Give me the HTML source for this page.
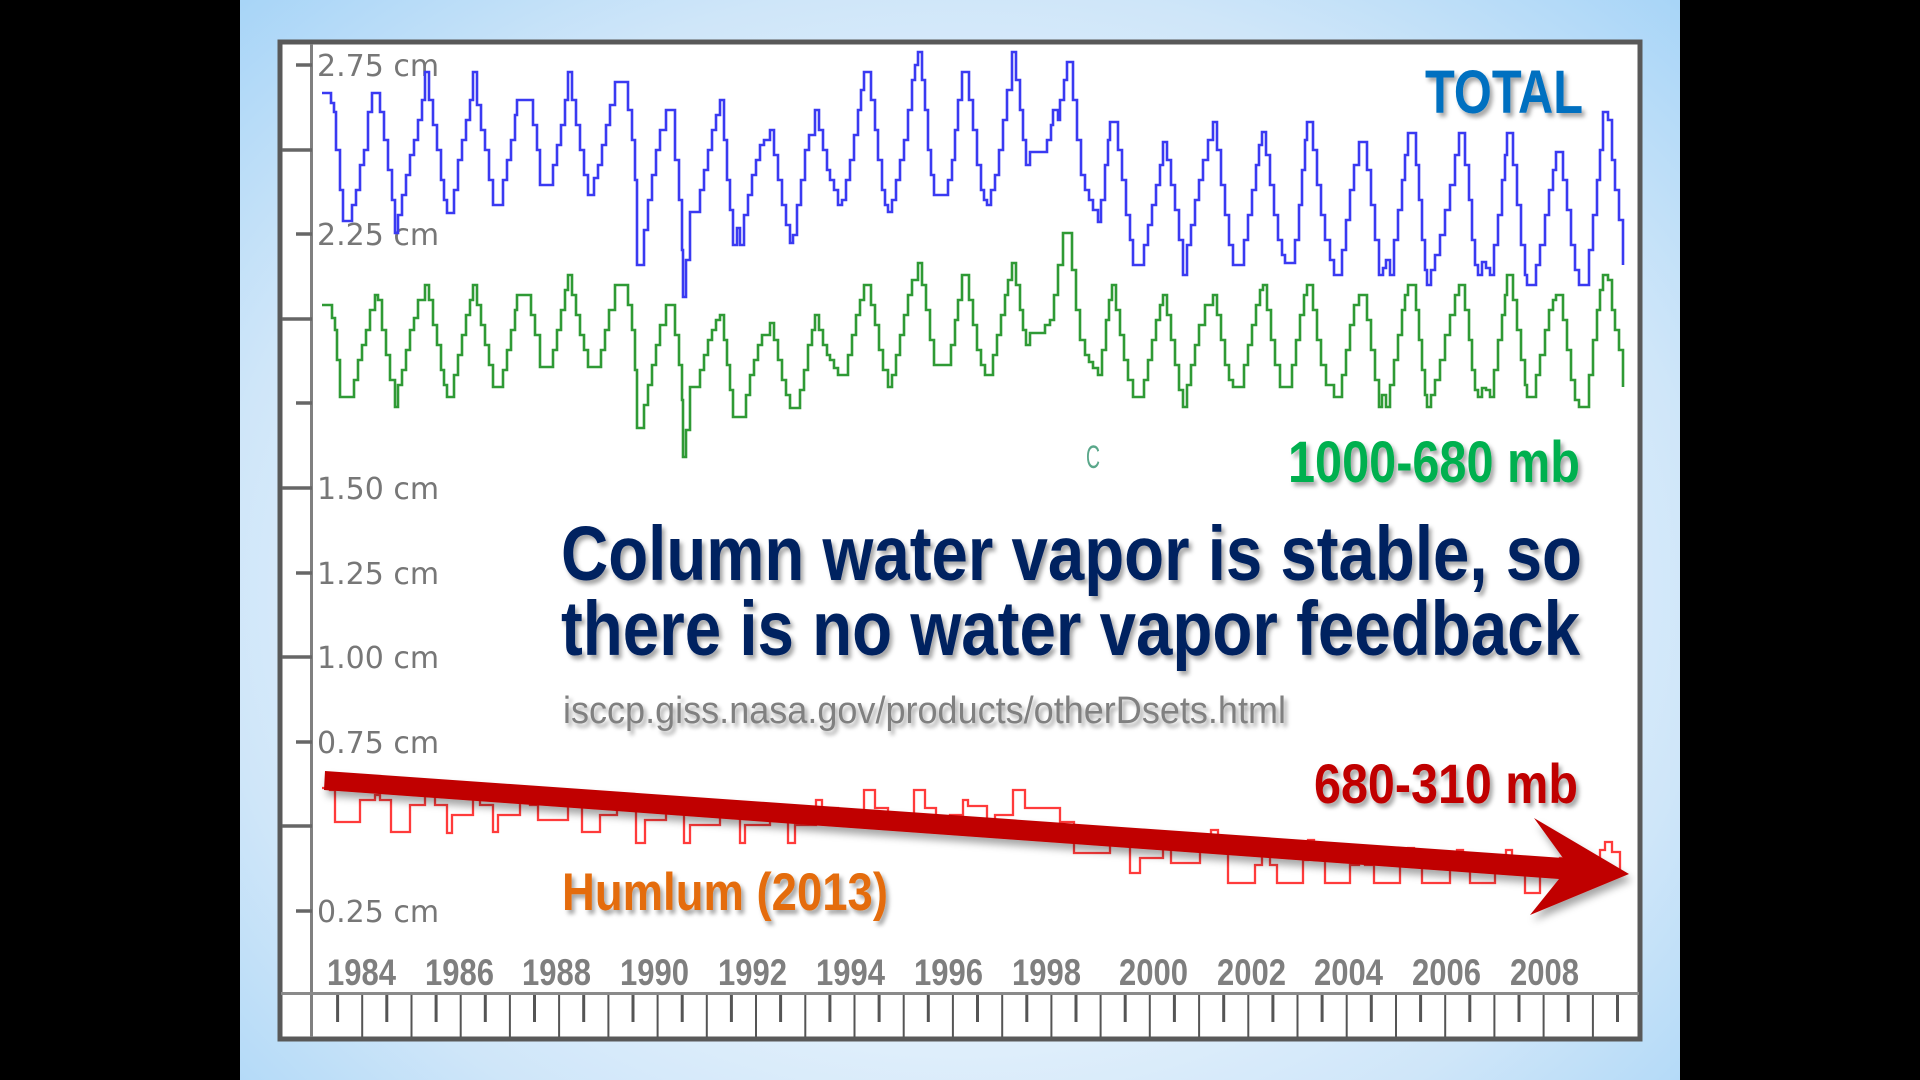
<!DOCTYPE html>
<html>
<head>
<meta charset="utf-8">
<style>
  html,body{margin:0;padding:0;background:#000;}
  body{width:1920px;height:1080px;position:relative;overflow:hidden;}
  .slide{position:absolute;left:240px;top:0;width:1440px;height:1080px;
    background:radial-gradient(ellipse 72% 78% at 50% 55%, #f7fbff 0%, #e6f2fc 45%, #cfe6f9 72%, #a6d4f7 100%);}
  svg{position:absolute;left:0;top:0;}
</style>
</head>
<body>
<div class="slide"></div>
<svg width="1920" height="1080" viewBox="0 0 1920 1080" xmlns="http://www.w3.org/2000/svg">
  <defs>
    <filter id="sh" x="-10%" y="-30%" width="130%" height="180%">
      <feDropShadow dx="3" dy="4" stdDeviation="2.2" flood-color="#000" flood-opacity="0.35"/>
    </filter>
    <filter id="ash" x="-5%" y="-50%" width="110%" height="250%">
      <feDropShadow dx="3" dy="6" stdDeviation="4" flood-color="#000" flood-opacity="0.35"/>
    </filter>
  </defs>

  <!-- chart box -->
  <rect x="280" y="42" width="1360" height="997" fill="#ffffff" stroke="#595959" stroke-width="5"/>

  <!-- y axis line -->
  <line x1="311.5" y1="44" x2="311.5" y2="1037" stroke="#808080" stroke-width="3"/>
  <g stroke="#666" stroke-width="3.5">
    <line x1="296" y1="65" x2="312" y2="65"/>
    <line x1="282" y1="150" x2="312" y2="150"/>
    <line x1="296" y1="234" x2="312" y2="234"/>
    <line x1="282" y1="319" x2="312" y2="319"/>
    <line x1="296" y1="403" x2="312" y2="403"/>
    <line x1="282" y1="488" x2="312" y2="488"/>
    <line x1="296" y1="573" x2="312" y2="573"/>
    <line x1="282" y1="657" x2="312" y2="657"/>
    <line x1="296" y1="742" x2="312" y2="742"/>
    <line x1="282" y1="826" x2="312" y2="826"/>
    <line x1="296" y1="911" x2="312" y2="911"/>
  </g>
  <g font-family="'DejaVu Sans', 'Liberation Sans', sans-serif" font-size="30" fill="#777777">
    <text x="317" y="76">2.75 cm</text>
    <text x="317" y="245">2.25 cm</text>
    <text x="317" y="499">1.50 cm</text>
    <text x="317" y="584">1.25 cm</text>
    <text x="317" y="668">1.00 cm</text>
    <text x="317" y="753">0.75 cm</text>
    <text x="317" y="922">0.25 cm</text>
  </g>

  <!-- x axis line + ruler -->
  <line x1="281" y1="993.5" x2="1639" y2="993.5" stroke="#8a8a8a" stroke-width="3"/>
  <g stroke="#555" stroke-width="2">
    <line x1="362.2" y1="995" x2="362.2" y2="1037"/>
    <line x1="411.5" y1="995" x2="411.5" y2="1037"/>
    <line x1="460.7" y1="995" x2="460.7" y2="1037"/>
    <line x1="509.9" y1="995" x2="509.9" y2="1037"/>
    <line x1="559.1" y1="995" x2="559.1" y2="1037"/>
    <line x1="608.4" y1="995" x2="608.4" y2="1037"/>
    <line x1="657.6" y1="995" x2="657.6" y2="1037"/>
    <line x1="706.8" y1="995" x2="706.8" y2="1037"/>
    <line x1="756.0" y1="995" x2="756.0" y2="1037"/>
    <line x1="805.3" y1="995" x2="805.3" y2="1037"/>
    <line x1="854.5" y1="995" x2="854.5" y2="1037"/>
    <line x1="903.7" y1="995" x2="903.7" y2="1037"/>
    <line x1="952.9" y1="995" x2="952.9" y2="1037"/>
    <line x1="1002.2" y1="995" x2="1002.2" y2="1037"/>
    <line x1="1051.4" y1="995" x2="1051.4" y2="1037"/>
    <line x1="1100.6" y1="995" x2="1100.6" y2="1037"/>
    <line x1="1149.8" y1="995" x2="1149.8" y2="1037"/>
    <line x1="1199.1" y1="995" x2="1199.1" y2="1037"/>
    <line x1="1248.3" y1="995" x2="1248.3" y2="1037"/>
    <line x1="1297.5" y1="995" x2="1297.5" y2="1037"/>
    <line x1="1346.7" y1="995" x2="1346.7" y2="1037"/>
    <line x1="1396.0" y1="995" x2="1396.0" y2="1037"/>
    <line x1="1445.2" y1="995" x2="1445.2" y2="1037"/>
    <line x1="1494.4" y1="995" x2="1494.4" y2="1037"/>
    <line x1="1543.6" y1="995" x2="1543.6" y2="1037"/>
    <line x1="1592.9" y1="995" x2="1592.9" y2="1037"/>
  </g>
  <g stroke="#555" stroke-width="3">
    <line x1="337.6" y1="995" x2="337.6" y2="1022"/>
    <line x1="386.8" y1="995" x2="386.8" y2="1022"/>
    <line x1="436.1" y1="995" x2="436.1" y2="1022"/>
    <line x1="485.3" y1="995" x2="485.3" y2="1022"/>
    <line x1="534.5" y1="995" x2="534.5" y2="1022"/>
    <line x1="583.7" y1="995" x2="583.7" y2="1022"/>
    <line x1="633.0" y1="995" x2="633.0" y2="1022"/>
    <line x1="682.2" y1="995" x2="682.2" y2="1022"/>
    <line x1="731.4" y1="995" x2="731.4" y2="1022"/>
    <line x1="780.6" y1="995" x2="780.6" y2="1022"/>
    <line x1="829.9" y1="995" x2="829.9" y2="1022"/>
    <line x1="879.1" y1="995" x2="879.1" y2="1022"/>
    <line x1="928.3" y1="995" x2="928.3" y2="1022"/>
    <line x1="977.5" y1="995" x2="977.5" y2="1022"/>
    <line x1="1026.8" y1="995" x2="1026.8" y2="1022"/>
    <line x1="1076.0" y1="995" x2="1076.0" y2="1022"/>
    <line x1="1125.2" y1="995" x2="1125.2" y2="1022"/>
    <line x1="1174.4" y1="995" x2="1174.4" y2="1022"/>
    <line x1="1223.7" y1="995" x2="1223.7" y2="1022"/>
    <line x1="1272.9" y1="995" x2="1272.9" y2="1022"/>
    <line x1="1322.1" y1="995" x2="1322.1" y2="1022"/>
    <line x1="1371.3" y1="995" x2="1371.3" y2="1022"/>
    <line x1="1420.6" y1="995" x2="1420.6" y2="1022"/>
    <line x1="1469.8" y1="995" x2="1469.8" y2="1022"/>
    <line x1="1519.0" y1="995" x2="1519.0" y2="1022"/>
    <line x1="1568.2" y1="995" x2="1568.2" y2="1022"/>
    <line x1="1617.5" y1="995" x2="1617.5" y2="1022"/>
  </g>
  <g font-family="'Liberation Sans', sans-serif" font-weight="bold" font-size="37" fill="#7f7f7f">
    <text x="327" y="985" textLength="69" lengthAdjust="spacingAndGlyphs">1984</text>
    <text x="425" y="985" textLength="69" lengthAdjust="spacingAndGlyphs">1986</text>
    <text x="522" y="985" textLength="69" lengthAdjust="spacingAndGlyphs">1988</text>
    <text x="620" y="985" textLength="69" lengthAdjust="spacingAndGlyphs">1990</text>
    <text x="718" y="985" textLength="69" lengthAdjust="spacingAndGlyphs">1992</text>
    <text x="816" y="985" textLength="69" lengthAdjust="spacingAndGlyphs">1994</text>
    <text x="914" y="985" textLength="69" lengthAdjust="spacingAndGlyphs">1996</text>
    <text x="1012" y="985" textLength="69" lengthAdjust="spacingAndGlyphs">1998</text>
    <text x="1119" y="985" textLength="69" lengthAdjust="spacingAndGlyphs">2000</text>
    <text x="1217" y="985" textLength="69" lengthAdjust="spacingAndGlyphs">2002</text>
    <text x="1314" y="985" textLength="69" lengthAdjust="spacingAndGlyphs">2004</text>
    <text x="1412" y="985" textLength="69" lengthAdjust="spacingAndGlyphs">2006</text>
    <text x="1510" y="985" textLength="69" lengthAdjust="spacingAndGlyphs">2008</text>
  </g>

  <!-- TOTAL (blue) series -->
  <polyline class="step" fill="none" stroke="#3a3af2" stroke-width="2.6" stroke-linejoin="miter" points="
    322,93 328,93 331,103 334,112 336,150 340,190 343,221 348,221 352,205 356,190 360,165 364,150 368,112 372,93 377,93 380,112 384,140 388,170 392,200 395,233 398,215 402,195 406,175 410,155 414,140 418,120 422,100 425,72 429,100 433,125 437,150 441,180 444,200 447,213 451,213 454,190 458,160 462,140 466,120 470,100 473,72 477,105 481,130 485,150 489,180 493,205 500,205 503,180 507,160 511,140 515,115 517,100 530,100 533,125 537,150 540,185 550,185 553,165 557,145 561,125 565,100 568,72 572,100 576,125 580,150 584,175 588,195 592,195 594,178 598,165 602,145 606,125 610,105 615,82 625,82 628,110 632,140 635,180 637,265 641,265 644,230 648,200 652,175 656,150 660,130 666,110 672,110 675,160 679,200 682,250 683,297 686,260 690,212 697,212 700,190 704,170 708,150 712,130 716,115 720,100 724,140 727,180 730,210 733,245 737,228 740,245 744,215 748,195 752,175 756,160 760,145 764,140 770,130 774,155 778,180 782,205 786,225 790,243 793,235 797,205 801,180 805,150 809,135 815,110 819,130 823,150 827,170 830,180 834,190 838,205 842,200 846,180 850,160 854,135 858,110 861,90 864,72 868,72 871,100 875,130 878,160 882,190 885,205 888,212 892,200 896,180 900,160 904,140 908,110 912,80 915,65 918,52 922,80 925,110 928,150 931,175 934,195 944,195 948,180 952,160 955,130 958,100 962,72 965,72 969,100 973,130 977,165 981,190 984,200 987,205 991,190 995,175 999,150 1003,120 1007,90 1012,52 1016,80 1020,110 1023,140 1026,165 1030,152 1043,152 1047,140 1051,125 1053,110 1058,120 1060,100 1064,80 1067,62 1070,62 1073,100 1077,140 1081,175 1085,190 1089,200 1093,210 1098,222 1101,200 1105,165 1108,140 1110,122 1115,122 1118,150 1122,180 1126,215 1130,240 1133,265 1141,265 1144,245 1148,225 1152,205 1156,185 1160,165 1163,142 1167,160 1171,185 1175,210 1179,240 1183,275 1187,245 1191,225 1195,200 1199,180 1203,160 1208,140 1213,122 1217,150 1221,185 1225,215 1229,245 1233,265 1240,265 1244,240 1248,215 1252,190 1256,165 1259,145 1262,132 1266,155 1270,185 1274,215 1278,240 1282,255 1285,263 1292,263 1295,240 1299,205 1302,170 1305,140 1307,122 1310,122 1313,150 1317,185 1321,215 1325,240 1330,260 1334,275 1338,275 1342,250 1346,220 1350,190 1354,165 1359,142 1364,142 1367,170 1371,205 1375,240 1379,275 1383,268 1386,260 1390,275 1394,240 1398,210 1402,180 1405,155 1408,133 1413,133 1416,165 1419,200 1422,240 1425,270 1427,285 1431,270 1435,255 1440,235 1445,210 1450,185 1455,155 1459,133 1462,133 1465,165 1469,200 1472,240 1475,265 1478,275 1482,262 1486,268 1490,275 1494,245 1498,215 1502,180 1505,155 1507,133 1510,133 1513,165 1517,205 1521,245 1525,275 1527,285 1532,285 1536,265 1540,245 1545,215 1549,190 1553,170 1556,152 1560,152 1563,180 1567,210 1571,245 1575,270 1579,285 1585,285 1589,250 1593,215 1597,180 1600,150 1603,112 1608,120 1612,160 1615,190 1619,220 1623,265"/>

  <!-- 1000-680 mb (green) series -->
  <polyline class="step" fill="none" stroke="#2f9a35" stroke-width="2.6" stroke-linejoin="miter" points="
    322,305 328,305 332,318 335,330 337,360 340,397 350,397 354,380 358,360 362,345 366,330 370,310 375,295 378,300 382,330 386,355 390,380 395,407 398,385 402,370 406,350 410,330 414,318 418,300 425,285 429,300 433,325 437,345 441,370 444,385 447,397 451,397 454,375 458,355 462,335 466,315 470,300 473,285 477,305 481,325 485,345 489,365 493,387 500,387 503,370 507,350 511,330 515,310 517,295 527,295 531,315 535,335 540,367 550,367 553,350 557,330 561,310 565,290 568,275 572,295 576,315 580,335 584,350 588,367 598,367 601,350 605,330 609,310 615,285 625,285 628,305 632,330 635,370 637,428 641,428 644,405 648,385 652,365 656,345 660,325 666,305 672,305 675,335 679,365 682,400 683,457 686,430 690,387 697,387 700,370 704,355 708,340 712,330 716,320 720,315 724,340 727,365 730,390 733,417 743,417 746,395 750,375 754,360 758,345 762,335 770,323 774,340 778,360 782,380 786,395 790,408 797,408 800,390 804,370 808,345 812,330 815,315 819,330 823,345 827,355 830,360 834,368 838,375 845,375 848,355 852,335 856,315 860,300 864,285 867,285 871,305 875,325 879,350 883,370 888,387 892,375 896,355 900,335 904,315 908,295 912,280 918,263 922,285 926,310 930,340 934,365 948,365 951,345 955,320 958,300 962,275 965,275 969,300 973,325 977,350 981,365 985,375 990,375 993,355 997,335 1001,315 1005,295 1008,280 1012,263 1016,285 1020,310 1023,330 1026,345 1030,333 1040,333 1045,325 1050,320 1054,295 1058,265 1063,233 1068,233 1072,270 1076,310 1080,340 1085,355 1089,362 1093,368 1098,375 1102,350 1106,320 1109,300 1112,285 1116,310 1120,335 1124,360 1128,380 1133,397 1141,397 1144,380 1148,360 1152,340 1156,320 1160,305 1163,295 1167,315 1171,340 1175,365 1179,390 1183,407 1187,385 1191,365 1195,345 1199,325 1205,305 1213,295 1217,315 1221,340 1225,365 1229,380 1233,387 1240,387 1244,365 1248,345 1252,325 1256,305 1260,290 1263,285 1267,310 1271,340 1275,365 1280,387 1288,387 1292,365 1296,340 1300,315 1304,295 1307,285 1310,285 1313,310 1317,340 1321,365 1326,385 1334,397 1338,397 1342,375 1346,350 1350,325 1354,305 1359,295 1364,295 1367,320 1371,350 1375,380 1379,407 1382,395 1386,407 1390,385 1394,360 1398,335 1402,310 1405,295 1408,285 1413,285 1416,310 1419,340 1422,370 1425,395 1427,407 1431,395 1435,380 1440,360 1445,335 1450,315 1455,295 1459,285 1462,285 1465,310 1469,340 1472,370 1475,390 1478,397 1482,388 1486,390 1490,397 1494,370 1498,340 1502,315 1505,295 1507,275 1510,275 1513,300 1517,330 1521,360 1525,385 1527,397 1532,397 1536,375 1540,355 1545,330 1549,310 1553,300 1556,295 1560,295 1563,320 1567,350 1571,380 1575,400 1579,407 1585,407 1589,375 1593,340 1597,310 1600,290 1603,275 1608,280 1612,310 1615,330 1619,350 1623,387"/>

  <!-- 680-310 mb (red) series -->
  <polyline class="step" fill="none" stroke="#ff3b3b" stroke-width="2.3" stroke-linejoin="miter" points="
    322,788 330,790 335,822 356,822 360,800 375,795 380,800 391,832 404,832 410,805 425,795 435,805 447,833 452,815 473,797 480,805 493,832 498,815 520,800 530,805 538,820 551,820 568,798 575,805 582,832 595,832 600,815 617,800 625,805 636,843 640,843 645,820 666,805 672,810 684,843 690,825 720,808 730,815 740,843 745,825 770,808 780,815 788,843 795,825 816,800 822,808 838,825 846,820 864,790 868,790 875,808 888,828 900,820 914,790 918,790 925,808 936,822 950,815 963,800 968,806 987,825 995,815 1013,790 1018,790 1025,808 1055,808 1060,822 1066,822 1074,853 1105,853 1110,845 1114,832 1120,845 1130,873 1140,858 1163,842 1171,863 1193,863 1200,850 1211,830 1218,845 1228,883 1246,883 1255,865 1262,850 1270,865 1277,883 1299,883 1303,860 1308,840 1314,860 1325,883 1343,883 1350,865 1359,850 1365,865 1374,883 1391,883 1400,862 1408,848 1414,862 1422,883 1444,883 1450,862 1457,850 1463,862 1470,883 1488,883 1495,862 1506,850 1512,862 1525,893 1532,893 1540,875 1560,858 1600,850 1605,842 1612,852 1620,873"/>

  <!-- red trend arrow -->
  <polygon filter="url(#ash)" fill="#c00000" points="325,771 1563,858 1534,818 1629,874 1530,915 1559,879 324,790"/>

  <!-- annotations -->
  <g font-family="'Liberation Sans', sans-serif" font-weight="bold" filter="url(#sh)">
    <text x="1425" y="113" font-size="61" fill="#0070c0" textLength="158" lengthAdjust="spacingAndGlyphs">TOTAL</text>
    <text x="1288" y="482" font-size="58" fill="#00b050" textLength="292" lengthAdjust="spacingAndGlyphs">1000-680 mb</text>
    <text x="561" y="580" font-size="77" fill="#002060" textLength="1021" lengthAdjust="spacingAndGlyphs">Column water vapor is stable, so</text>
    <text x="561" y="655" font-size="77" fill="#002060" textLength="1019" lengthAdjust="spacingAndGlyphs">there is no water vapor feedback</text>
    <text x="1314" y="803" font-size="56" fill="#c00000" textLength="264" lengthAdjust="spacingAndGlyphs">680-310 mb</text>
    <text x="562" y="910" font-size="53" fill="#e46c0a" textLength="326" lengthAdjust="spacingAndGlyphs">Humlum (2013)</text>
  </g>
  <text x="563" y="723" font-family="'Liberation Sans', sans-serif" font-size="38" fill="#808080" filter="url(#sh)" textLength="723" lengthAdjust="spacingAndGlyphs">isccp.giss.nasa.gov/products/otherDsets.html</text>
  <text x="1086" y="468" font-family="'Liberation Sans', sans-serif" font-size="32" fill="#5aa78a" textLength="14" lengthAdjust="spacingAndGlyphs">C</text>
</svg>
<script>
(function(){
  var pls = document.querySelectorAll('polyline.step');
  for (var i = 0; i < pls.length; i++) {
    var pl = pls[i];
    var nums = pl.getAttribute('points').trim().split(/[\s,]+/).map(Number);
    var pts = [];
    for (var j = 0; j + 1 < nums.length; j += 2) pts.push([nums[j], nums[j+1]]);
    var out = [pts[0][0] + ',' + pts[0][1]];
    for (var k = 1; k < pts.length; k++) {
      out.push(pts[k][0] + ',' + pts[k-1][1]);
      out.push(pts[k][0] + ',' + pts[k][1]);
    }
    pl.setAttribute('points', out.join(' '));
  }
})();
</script>
</body>
</html>
